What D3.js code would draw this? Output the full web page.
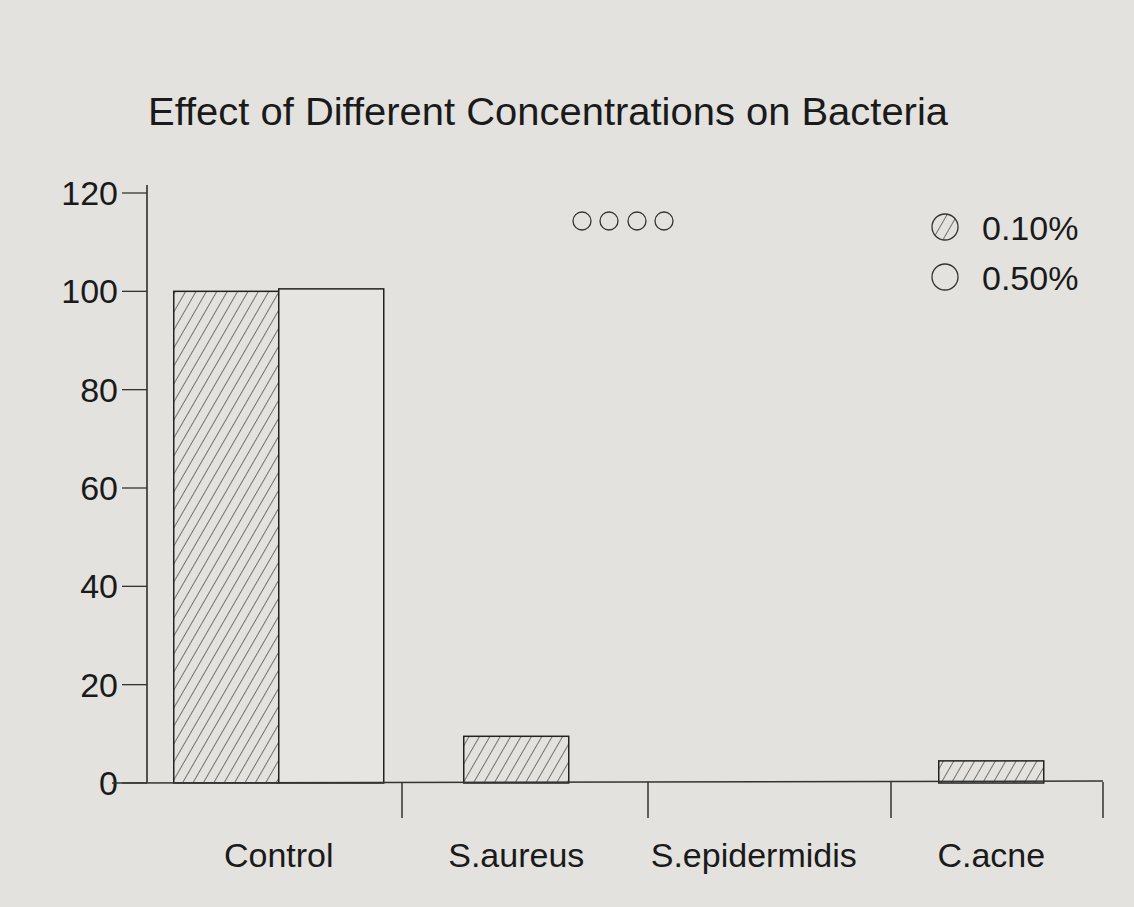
<!DOCTYPE html>
<html><head><meta charset="utf-8">
<script src="https://cdn.jsdelivr.net/npm/d3@7"></script>
<style>body{margin:0;background:#e3e2de;}</style></head>
<body><svg id="c" width="1134" height="907"></svg>
<script>
const categories = ["Control","S.aureus","S.epidermidis","C.acne"];
const series01 = [100, 9.5, 0, 4.5];
const series05 = [100.5, 0, 0, 0];
const yTicks = [0,20,40,60,80,100,120];
const seriesNames = ["0.10%","0.50%"];

const svg = d3.select("#c");
const font = "'Liberation Sans', Arial, sans-serif";
const defs = svg.append("defs");
const pat = defs.append("pattern").attr("id","hatch").attr("patternUnits","userSpaceOnUse")
  .attr("width",9).attr("height",9).attr("patternTransform","rotate(30)");
pat.append("rect").attr("width",9).attr("height",9).attr("fill","#e3e2de");
pat.append("line").attr("x1",0).attr("y1",0).attr("x2",0).attr("y2",9).attr("stroke","#333").attr("stroke-width",1.3);

svg.append("text").attr("x",548).attr("y",125).attr("text-anchor","middle")
  .attr("font-family",font).attr("font-size",38).attr("fill","#1a1a1a")
  .attr("textLength",800).attr("lengthAdjust","spacingAndGlyphs")
  .text("Effect of Different Concentrations on Bacteria");

const y = d3.scaleLinear().domain([0,120]).range([783,193]);
const x = d3.scaleBand().domain(categories).range([160,1110]);
const bw = 105;

svg.append("line").attr("x1",147).attr("x2",147).attr("y1",185).attr("y2",783).attr("stroke","#222").attr("stroke-width",1.5);
const yt = svg.append("g");
yTicks.forEach(t=>{
  yt.append("line").attr("x1",122).attr("x2",147).attr("y1",y(t)).attr("y2",y(t)).attr("stroke","#333").attr("stroke-width",1.3);
  yt.append("text").attr("x",118).attr("y",y(t)+12).attr("text-anchor","end")
    .attr("font-family",font).attr("font-size",34).attr("fill","#1a1a1a").text(t);
});

categories.forEach((c,i)=>{
  const cx = x(c)+x.bandwidth()/2;
  const two = series05[i] > 0;
  const x1 = two ? cx-bw : cx-bw/2;
  svg.append("rect").attr("x",x1).attr("y",y(series01[i])).attr("width",bw)
    .attr("height",y(0)-y(series01[i])).attr("fill","url(#hatch)").attr("stroke","#222").attr("stroke-width",1.5);
  if(two){
    svg.append("rect").attr("x",cx).attr("y",y(series05[i])).attr("width",bw)
      .attr("height",y(0)-y(series05[i])).attr("fill","#e6e5e1").attr("stroke","#222").attr("stroke-width",1.5);
  }
  svg.append("text").attr("x",cx).attr("y",867).attr("text-anchor","middle")
    .attr("font-family",font).attr("font-size",34).attr("fill","#1a1a1a").text(c);
});

svg.append("line").attr("x1",112).attr("x2",1103).attr("y1",783).attr("y2",781).attr("stroke","#333").attr("stroke-width",1.5);
[402,648,891,1103].forEach(px=>{
  svg.append("line").attr("x1",px).attr("x2",px).attr("y1",782).attr("y2",818).attr("stroke","#333").attr("stroke-width",1.5);
});

[582,609,637,664].forEach(px=>{
  svg.append("circle").attr("cx",px).attr("cy",221).attr("r",9).attr("fill","none").attr("stroke","#333").attr("stroke-width",1.3);
});
svg.append("circle").attr("cx",945).attr("cy",227).attr("r",13).attr("fill","url(#hatch)").attr("stroke","#333").attr("stroke-width",1.3);
svg.append("circle").attr("cx",945).attr("cy",277).attr("r",13).attr("fill","none").attr("stroke","#333").attr("stroke-width",1.3);
seriesNames.forEach((n,i)=>{
  svg.append("text").attr("x",982).attr("y",240+i*50).attr("font-family",font).attr("font-size",34).attr("fill","#1a1a1a").text(n);
});
</script></body></html>
